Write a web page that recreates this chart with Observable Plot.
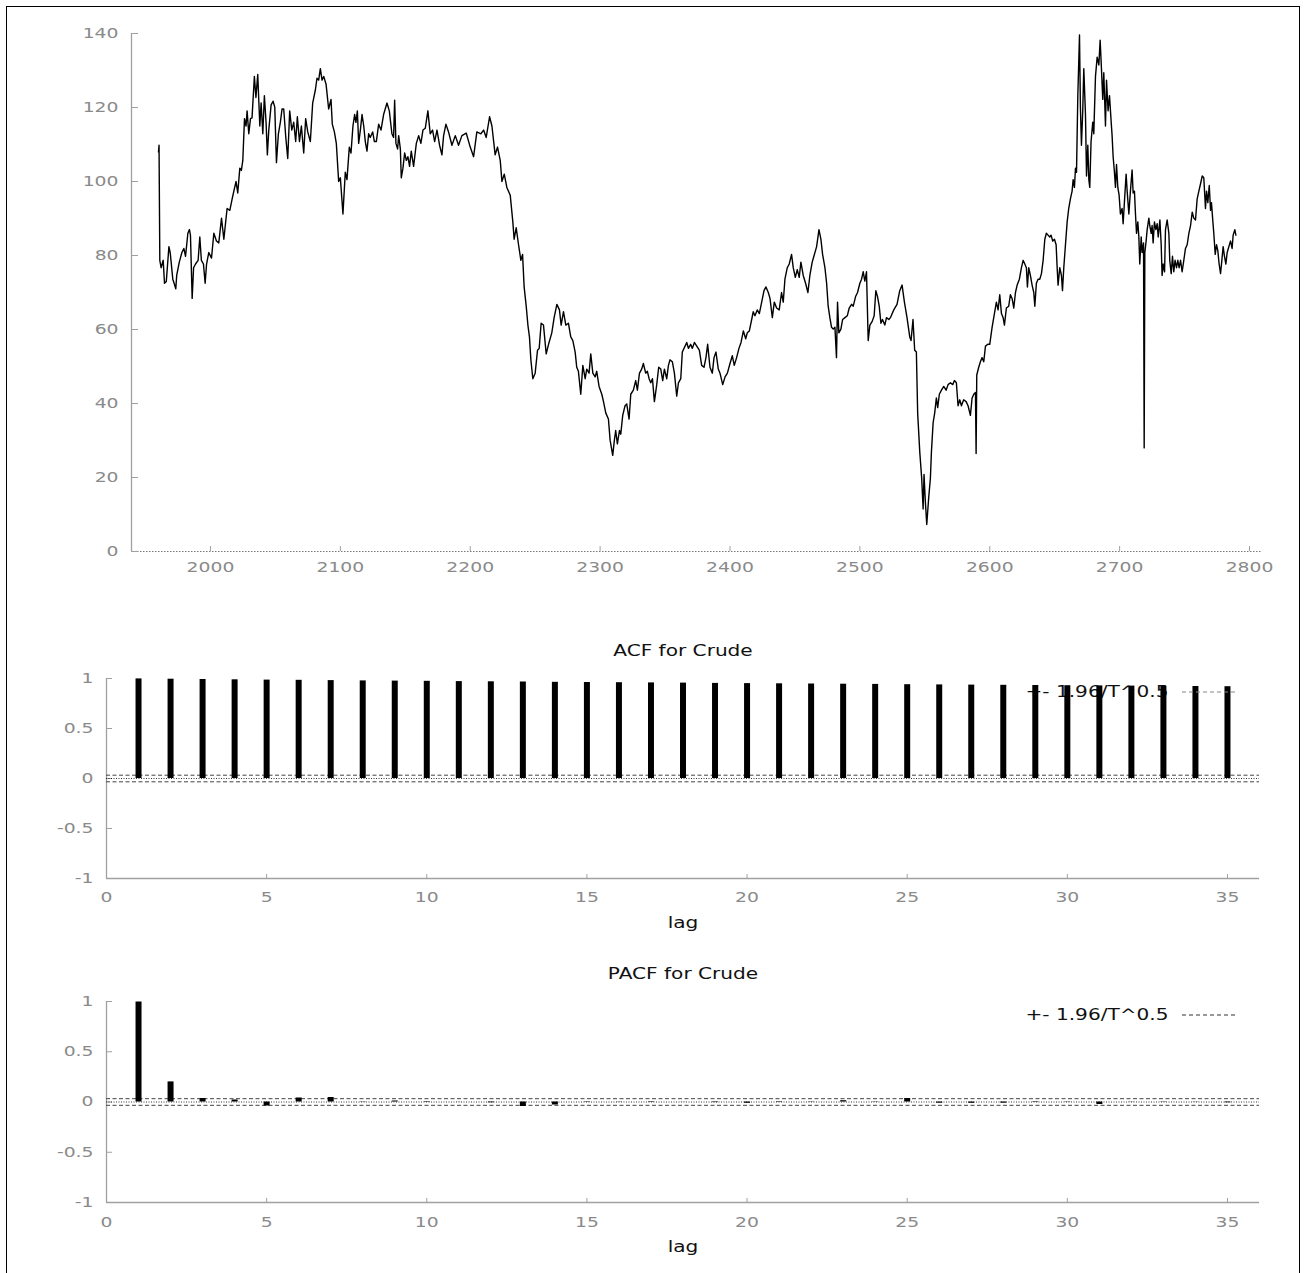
<!DOCTYPE html>
<html><head><meta charset="utf-8">
<script src="https://cdn.jsdelivr.net/npm/d3@7"></script>
<script src="https://cdn.jsdelivr.net/npm/@observablehq/plot@0.6"></script>
<style>
body{margin:0;background:#fff;}
#wrap{position:relative;width:1304px;height:1273px;overflow:hidden;font-family:"DejaVu Sans",sans-serif;background:#fff;}
#frame{position:absolute;left:6px;top:6px;width:1292px;height:1300px;border:1px solid #000;border-bottom:none;z-index:10;pointer-events:none;}
.p{position:absolute;left:0;}
.p svg{overflow:visible;}
</style></head><body><div id="wrap"><div id="frame"></div></div>
<script>
// ---------- data ----------
const obs = [1960.0,1960.4,1961.0,1962.0,1963.6,1964.6,1966.0,1968.0,1969.0,1971.0,1972.0,1973.3,1974.0,1976.0,1978.0,1979.5,1980.8,1982.6,1983.8,1984.6,1985.9,1987.0,1988.5,1990.5,1991.8,1993.0,1994.6,1995.9,1997.0,1998.7,2000.8,2002.6,2004.6,2006.4,2008.5,2010.3,2012.8,2014.9,2016.7,2018.0,2019.7,2021.0,2022.6,2023.8,2024.9,2026.2,2027.4,2028.2,2029.5,2030.8,2032.0,2033.8,2035.0,2036.4,2038.0,2039.0,2040.3,2041.5,2042.8,2043.8,2044.9,2046.7,2048.2,2049.5,2050.8,2052.3,2053.8,2055.1,2056.4,2058.0,2059.5,2061.0,2062.6,2064.1,2065.6,2066.9,2068.5,2070.0,2071.8,2073.3,2074.9,2076.9,2078.7,2080.8,2082.0,2083.3,2084.6,2085.9,2087.2,2089.0,2091.0,2092.8,2093.8,2095.4,2096.9,2098.7,2100.0,2102.0,2103.8,2105.1,2106.9,2108.2,2109.7,2111.0,2112.0,2113.1,2114.1,2115.4,2116.7,2118.0,2119.2,2120.5,2121.8,2123.0,2124.9,2126.2,2127.7,2129.5,2131.3,2133.3,2135.9,2137.7,2139.7,2141.0,2141.8,2142.8,2144.1,2144.9,2146.2,2146.9,2148.2,2149.5,2150.8,2152.0,2153.3,2154.6,2156.4,2158.5,2160.3,2162.0,2163.6,2165.4,2167.4,2169.2,2171.0,2172.6,2174.4,2176.4,2178.2,2179.5,2181.3,2183.3,2185.9,2188.5,2191.0,2193.6,2196.9,2200.0,2202.6,2205.1,2208.2,2210.3,2212.3,2214.9,2216.7,2219.2,2221.0,2223.1,2224.4,2226.2,2228.2,2230.8,2232.8,2233.8,2235.4,2237.2,2239.0,2240.3,2241.5,2243.1,2244.4,2245.6,2246.7,2248.2,2250.0,2251.8,2253.1,2254.6,2256.4,2258.5,2260.3,2262.8,2264.6,2266.7,2268.7,2270.0,2271.8,2273.6,2275.6,2277.4,2279.0,2280.8,2282.0,2283.3,2285.1,2286.7,2288.5,2289.7,2291.5,2292.8,2294.4,2296.2,2297.4,2299.2,2301.3,2302.6,2304.4,2306.4,2307.7,2309.7,2311.0,2312.0,2313.3,2314.9,2315.9,2317.4,2319.2,2320.5,2322.3,2323.6,2325.6,2327.4,2328.7,2330.3,2332.0,2333.3,2335.1,2336.4,2337.7,2339.0,2340.3,2341.8,2343.6,2345.1,2346.7,2348.2,2349.5,2351.3,2352.6,2353.8,2355.6,2357.2,2359.0,2360.3,2362.1,2363.3,2364.6,2366.7,2368.0,2369.7,2371.0,2372.6,2374.4,2376.4,2378.2,2380.0,2381.5,2382.8,2384.6,2386.4,2387.7,2389.2,2391.0,2392.3,2394.4,2396.2,2398.0,2400.0,2401.8,2403.3,2405.1,2406.9,2408.5,2410.3,2412.1,2413.3,2414.9,2416.7,2417.9,2419.2,2421.0,2422.6,2424.4,2426.2,2427.7,2429.5,2430.8,2432.6,2434.1,2435.9,2437.9,2439.7,2441.0,2442.3,2444.1,2445.6,2447.4,2448.7,2450.3,2451.8,2453.3,2454.6,2456.4,2458.2,2460.0,2461.5,2463.3,2464.6,2466.7,2468.5,2470.0,2471.3,2473.1,2474.4,2475.6,2476.9,2478.2,2479.5,2480.8,2482.0,2482.8,2483.8,2485.4,2486.7,2488.5,2490.3,2491.8,2493.6,2494.9,2496.7,2498.2,2500.0,2501.3,2502.6,2503.8,2505.1,2506.4,2507.7,2509.5,2511.0,2512.3,2513.6,2514.9,2516.2,2517.4,2519.2,2520.5,2522.3,2523.5,2526.1,2528.6,2530.7,2532.5,2534.3,2536.3,2538.4,2539.4,2540.9,2542.2,2543.5,2544.5,2546.1,2547.6,2548.7,2549.4,2550.4,2551.5,2553.0,2554.3,2555.1,2556.4,2557.6,2558.9,2559.9,2561.2,2562.8,2564.6,2566.4,2567.9,2569.7,2571.5,2572.8,2574.3,2575.6,2576.9,2578.2,2579.9,2581.8,2583.3,2585.1,2586.4,2587.7,2589.0,2589.5,2590.0,2591.5,2592.8,2594.1,2595.4,2596.7,2598.5,2600.0,2601.8,2603.6,2605.1,2606.4,2607.7,2609.0,2610.3,2611.3,2612.8,2614.6,2615.9,2617.2,2618.5,2619.8,2621.1,2622.8,2624.4,2625.7,2627.0,2628.2,2629.0,2630.0,2631.3,2632.6,2633.9,2634.7,2635.9,2637.2,2638.5,2639.8,2641.1,2642.4,2643.6,2644.9,2646.2,2647.2,2648.5,2649.8,2651.1,2651.9,2652.6,2653.9,2655.2,2656.0,2657.0,2658.3,2659.6,2660.8,2662.1,2663.4,2664.2,2665.2,2666.0,2666.8,2667.8,2669.1,2669.8,2670.6,2671.6,2672.4,2673.7,2674.5,2675.5,2676.3,2677.0,2678.0,2679.3,2680.1,2681.4,2682.7,2684.0,2685.0,2686.0,2687.0,2687.8,2689.1,2689.9,2691.1,2692.2,2693.5,2694.2,2695.0,2696.0,2696.8,2697.6,2698.6,2699.6,2700.6,2701.9,2702.7,2704.0,2705.0,2705.8,2707.1,2708.3,2709.6,2710.4,2711.4,2712.2,2713.0,2714.0,2714.8,2715.5,2716.6,2717.3,2718.4,2718.9,2719.4,2720.4,2721.2,2722.5,2723.2,2724.3,2725.0,2725.8,2726.8,2727.9,2728.9,2729.7,2731.0,2732.0,2732.7,2733.5,2734.6,2735.3,2736.6,2737.9,2738.6,2739.7,2740.7,2741.7,2742.7,2743.8,2744.8,2745.8,2746.9,2748.1,2749.4,2750.7,2752.0,2753.3,2754.6,2755.9,2757.1,2758.4,2759.7,2761.0,2762.3,2763.6,2764.8,2766.1,2766.9,2767.9,2769.0,2770.0,2770.7,2771.8,2772.5,2773.6,2774.6,2775.6,2776.6,2777.7,2778.7,2779.7,2780.7,2781.8,2782.8,2784.1,2785.4,2786.6,2787.4,2788.7,2789.5];
const crude = [108.0,109.8,78.7,76.7,78.7,72.5,73.0,82.4,80.8,73.6,72.5,71.0,74.6,78.2,80.8,81.9,79.8,86.0,87.0,85.5,68.4,76.7,77.7,78.7,85.0,78.7,77.7,72.5,77.7,80.8,79.3,86.0,83.9,83.4,90.1,84.4,92.7,92.2,95.3,97.4,100.0,96.9,103.6,103.0,105.7,117.0,115.0,119.1,112.9,117.0,117.2,128.4,122.7,128.9,115.0,121.2,112.9,123.2,116.0,107.2,113.9,120.7,121.7,120.1,105.1,112.9,116.0,119.6,119.6,111.9,106.2,119.1,113.9,116.0,110.8,117.5,110.8,115.0,107.7,117.0,113.4,110.8,121.2,124.8,127.9,127.4,130.5,127.4,128.4,126.3,119.6,122.2,115.5,113.4,110.3,100.0,101.0,91.2,102.5,100.5,109.3,107.7,115.0,118.1,116.0,119.1,110.3,113.9,118.1,115.0,110.8,108.2,112.9,111.9,113.4,110.8,110.8,115.5,113.9,118.1,121.2,119.1,112.9,111.9,122.0,110.3,108.8,112.4,108.8,101.0,103.6,107.7,105.7,106.7,104.1,108.2,104.1,110.3,112.4,110.3,113.9,114.4,119.1,112.9,113.9,110.8,113.9,109.8,107.2,112.4,115.5,113.4,109.8,112.4,109.8,112.4,113.1,109.3,106.7,113.4,112.9,113.9,111.9,117.5,115.0,107.2,109.3,105.7,100.0,102.0,98.4,96.3,89.1,84.4,87.5,82.9,78.7,80.3,71.5,66.3,61.2,58.0,51.8,46.7,48.2,54.4,54.9,61.7,61.2,53.4,56.0,59.1,63.2,66.8,65.3,61.2,64.8,61.2,61.7,58.0,57.0,53.9,49.8,48.7,42.5,50.3,46.7,49.3,48.2,53.4,48.2,47.2,48.7,44.6,42.5,40.5,37.4,35.8,30.1,26.0,30.1,32.7,29.1,32.7,31.7,36.8,39.4,39.9,35.8,42.5,43.6,46.2,43.6,48.2,49.3,50.8,48.2,48.7,46.7,45.6,46.7,40.5,45.1,49.8,49.3,46.2,49.3,46.7,50.3,51.8,51.3,48.2,42.0,45.6,46.7,53.9,54.9,56.5,54.9,56.0,54.9,56.5,55.5,54.4,50.3,49.8,52.4,56.0,49.8,48.2,52.4,53.9,49.3,48.2,45.1,47.2,48.2,50.8,52.9,50.3,52.4,54.9,56.5,59.6,57.5,59.1,59.6,62.7,64.8,63.7,65.3,64.3,67.4,70.5,71.5,70.0,68.4,63.2,67.4,65.8,65.3,70.0,67.4,73.6,76.7,77.7,80.3,76.7,74.1,76.2,74.1,78.2,74.6,72.5,70.0,74.6,78.2,79.8,82.4,87.0,84.4,80.3,76.7,72.5,66.3,63.2,60.6,60.1,60.6,52.4,67.4,59.1,60.1,62.7,63.2,63.7,65.8,66.8,66.3,68.9,70.0,72.5,73.6,75.6,73.1,75.6,57.0,61.2,62.2,63.7,70.5,68.9,66.3,61.7,62.7,61.2,63.2,62.7,63.2,65.3,66.8,70.5,72.0,67.4,63.2,58.0,57.0,62.7,54.4,53.9,37.4,27.0,19.8,11.5,20.8,13.6,7.3,14.6,19.8,27.0,34.8,37.4,41.5,38.9,42.5,43.6,44.6,43.6,45.1,45.6,45.1,46.2,45.6,39.4,41.0,39.4,41.0,40.5,39.4,36.8,41.5,42.5,43.0,26.5,47.7,49.8,51.3,52.4,51.3,55.5,56.0,56.0,60.6,64.3,67.4,65.3,69.4,64.3,63.2,61.2,65.8,66.3,69.4,68.4,65.8,70.0,72.0,73.6,76.7,78.7,77.7,76.7,71.5,76.7,74.6,72.0,70.0,66.3,72.5,73.6,73.6,75.1,78.7,84.4,86.0,85.5,85.0,85.5,83.9,84.4,82.9,76.7,72.0,76.7,74.6,70.5,76.7,82.9,89.1,92.7,95.3,97.4,100.5,98.4,103.6,102.5,123.2,139.6,120.1,109.8,119.1,130.5,118.1,101.5,109.8,100.5,98.4,110.8,116.0,112.9,128.4,133.6,131.5,138.2,130.5,122.2,129.4,115.0,127.4,119.1,123.2,116.0,112.4,106.7,102.5,98.4,104.6,98.4,96.3,91.2,92.7,88.6,96.3,102.0,97.4,91.2,97.4,103.1,96.9,97.4,91.2,86.0,89.1,85.0,77.7,85.0,80.8,83.4,28.0,80.8,83.9,87.0,90.1,88.1,86.0,88.1,83.4,89.1,87.0,88.6,85.0,89.6,82.9,74.6,77.7,75.6,87.0,89.6,86.0,78.7,75.1,79.8,75.6,78.7,76.7,78.7,76.7,78.7,75.6,78.7,81.9,82.9,86.0,88.1,91.7,90.1,89.6,95.3,97.4,99.4,101.5,101.0,92.7,97.4,94.3,98.9,92.2,94.3,89.1,86.0,80.3,82.9,81.3,77.7,75.1,78.7,82.4,79.8,77.7,80.8,82.4,83.9,81.9,85.5,87.0,85.5];
const seriesDomain = [1939.2, 2810];
const seriesTicks = [2000, 2100, 2200, 2300, 2400, 2500, 2600, 2700, 2800];
const valueTicks = [0, 20, 40, 60, 80, 100, 120, 140];

const lags = [1,2,3,4,5,6,7,8,9,10,11,12,13,14,15,16,17,18,19,20,21,22,23,24,25,26,27,28,29,30,31,32,33,34,35];
const acf = [0.996,0.993,0.990,0.987,0.984,0.982,0.979,0.976,0.974,0.972,0.969,0.967,0.965,0.962,0.960,0.958,0.956,0.954,0.951,0.949,0.947,0.945,0.943,0.941,0.938,0.936,0.934,0.932,0.930,0.928,0.926,0.924,0.922,0.920,0.918];
const pacf = [0.995,0.20,0.035,0.02,-0.04,0.04,0.045,0.003,0.01,-0.005,0.001,-0.008,-0.045,-0.03,-0.004,0.002,0.005,0.001,-0.006,-0.013,-0.005,-0.003,0.013,-0.003,0.035,-0.012,-0.013,-0.012,-0.005,-0.003,-0.025,0.002,0.003,-0.002,-0.008];
const band = 0.033;
const lagDomain = [0, 36];
const lagTicks = [0, 5, 10, 15, 20, 25, 30, 35];
const corrDomain = [-1, 1];
const corrTicks = [-1, -0.5, 0, 0.5, 1];
const legendLabel = "+- 1.96/T^0.5";

// ---------- style ----------
const AXIS = "#a0a0a0", LABEL = "#8a8a8a", INK = "#111";
const STRETCH = 1.34;
const fmt = d => String(d);
const wrap = document.getElementById("wrap");

function place(svg, top) {
  const div = document.createElement("div");
  div.className = "p"; div.style.top = top + "px";
  div.appendChild(svg);
  wrap.appendChild(div);
  return svg;
}
function stretch(svg) {
  svg.querySelectorAll("text").forEach(t => {
    const b = t.getBBox();
    const a = getComputedStyle(t).textAnchor;
    const ax = a === "middle" ? b.x + b.width / 2 : a === "end" ? b.x + b.width : b.x;
    t.setAttribute("transform", (t.getAttribute("transform") || "") + ` translate(${ax},0) scale(${STRETCH},1) translate(${-ax},0)`);
  });
}

// ---------- top: series ----------
const W = 1304;
const s1 = {top: 33, bottom: 49, left: 131, right: 42, height: 600};
const series = obs.map((o, i) => ({o, v: crude[i]}));
const p1 = Plot.plot({
  width: W, height: s1.height,
  marginTop: s1.top, marginBottom: s1.bottom, marginLeft: s1.left, marginRight: s1.right,
  style: {fontFamily: "DejaVu Sans", fontSize: "14px", background: "transparent"},
  x: {domain: seriesDomain, label: null},
  y: {domain: [0, 140], label: null},
  marks: [
    Plot.ruleX([seriesDomain[0]], {stroke: AXIS, strokeWidth: 1.3}),
    Plot.ruleY([0], {stroke: "#777", strokeDasharray: "1.5,1.5"}),
    Plot.tickY(valueTicks, {y: d => d, stroke: AXIS, insetRight: (W - s1.left - s1.right) - 7}),
    Plot.tickX(seriesTicks, {x: d => d, stroke: AXIS, insetTop: (s1.height - s1.top - s1.bottom) - 5}),
    Plot.axisY({ticks: valueTicks, tickSize: 0, tickPadding: 13, tickFormat: fmt, fill: LABEL, label: null}),
    Plot.axisX({ticks: seriesTicks, tickSize: 0, tickPadding: 11, tickFormat: fmt, fill: LABEL, label: null}),
    Plot.line(series, {x: "o", y: "v", stroke: "#000", strokeWidth: 1.4})
  ]
});
place(p1, 0);
stretch(p1);

// ---------- correlograms ----------
function correlogram(values, title, top, height, mTop, mBottom, xPad, legendStroke) {
  const data = lags.map((lag, i) => ({lag, r: values[i]}));
  const mLeft = 106, mRight = 45;
  const pw = W - mLeft - mRight, ph = height - mTop - mBottom;
  const svg = Plot.plot({
    width: W, height,
    marginTop: mTop, marginBottom: mBottom, marginLeft: mLeft, marginRight: mRight,
    style: {fontFamily: "DejaVu Sans", fontSize: "14px", background: "transparent"},
    x: {domain: lagDomain, label: null},
    y: {domain: corrDomain, label: null},
    marks: [
      Plot.ruleX([lagDomain[0]], {stroke: AXIS, strokeWidth: 1.3}),
      Plot.ruleY([corrDomain[0]], {stroke: AXIS, strokeWidth: 1.3}),
      Plot.tickY(corrTicks, {y: d => d, stroke: AXIS, insetRight: pw - 6}),
      Plot.tickX(lagTicks, {x: d => d, stroke: AXIS, insetTop: ph - 4}),
      Plot.axisY({ticks: corrTicks, tickSize: 0, tickPadding: 13, tickFormat: fmt, fill: LABEL, label: null}),
      Plot.axisX({ticks: lagTicks, tickSize: 0, tickPadding: xPad, tickFormat: fmt, fill: LABEL, label: null}),
      Plot.ruleY([band, -band], {stroke: "#444", strokeWidth: 1, strokeDasharray: "4,2.5"}),
      Plot.ruleY([0], {stroke: "#000", strokeWidth: 0.8, strokeDasharray: "1,1.5"}),
      Plot.text([title], {frameAnchor: "top", lineAnchor: "middle", dy: -27, fill: INK, fontSize: 15}),
      Plot.text(["lag"], {frameAnchor: "bottom", lineAnchor: "middle", dy: 45, fill: INK, fontSize: 15}),
      Plot.text([legendLabel], {frameAnchor: "top-left", lineAnchor: "middle", dx: 919, dy: 14, textAnchor: "start", fill: INK, fontSize: 15}),
      Plot.ruleX(data, {x: "lag", y1: 0, y2: "r", stroke: "#000", strokeWidth: 6})
    ]
  });
  place(svg, top);
  stretch(svg);
  // legend sample line
  d3.select(svg).append("line")
    .attr("x1", mLeft + 1076).attr("x2", mLeft + 1131)
    .attr("y1", mTop + 14).attr("y2", mTop + 14)
    .attr("stroke", legendStroke).attr("stroke-width", 1.2).attr("stroke-dasharray", "4,3");
  return svg;
}
correlogram(acf, "ACF for Crude", 620, 320, 58, 62, 14, "#888");
correlogram(pacf, "PACF for Crude", 940, 333, 61, 71, 15, "#333");
</script></body></html>
